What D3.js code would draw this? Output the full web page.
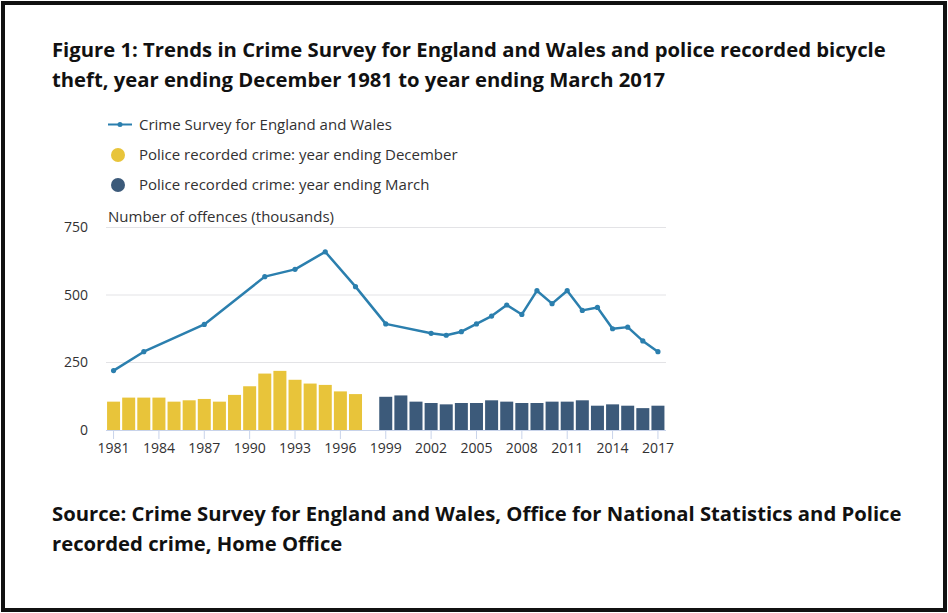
<!DOCTYPE html>
<html>
<head>
<meta charset="utf-8">
<script src="https://cdn.jsdelivr.net/npm/d3@7"></script>
<style>
  body { margin: 0; background: #fff; }
  text { font-family: "Open Sans", sans-serif; }
</style>
</head>
<body>
<svg id="chart" width="948" height="613"></svg>
<script>
// years on the x axis (one band per year)
const years = d3.range(1981, 2018);
const tickYears = [1981, 1984, 1987, 1990, 1993, 1996, 1999, 2002, 2005, 2008, 2011, 2014, 2017];
const yTicks = [0, 250, 500, 750];

// Crime Survey for England and Wales (thousands)
const csewYears = [1981, 1983, 1987, 1991, 1993, 1995, 1997, 1999, 2002, 2003, 2004, 2005, 2006, 2007, 2008, 2009, 2010, 2011, 2012, 2013, 2014, 2015, 2016, 2017];
const csewValues = [220, 290, 391, 568, 595, 660, 531, 393, 358, 351, 364, 393, 422, 463, 428, 516, 468, 516, 443, 454, 375, 381, 330, 290];

// police recorded crime, year ending December
const decYears = d3.range(1981, 1998);
const decValues = [105, 120, 120, 120, 105, 110, 115, 105, 130, 162, 209, 219, 186, 172, 167, 143, 133];

// police recorded crime, year ending March
const marYears = d3.range(1999, 2018);
const marValues = [123, 128, 105, 100, 95, 100, 100, 110, 105, 100, 100, 105, 105, 110, 90, 95, 90, 81, 90];

const lineColor = "#2b7fae";
const decColor = "#e8c43a";
const marColor = "#3c5a7a";
const textColor = "#323132";

const svg = d3.select("#chart");

// frame
svg.append("rect")
  .attr("x", 3).attr("y", 3)
  .attr("width", 942).attr("height", 607)
  .attr("fill", "#fff")
  .attr("stroke", "#111")
  .attr("stroke-width", 4);

// title
const title = ["Figure 1: Trends in Crime Survey for England and Wales and police recorded bicycle",
  "theft, year ending December 1981 to year ending March 2017"];
svg.selectAll(".title").data(title).enter().append("text")
  .attr("x", 52).attr("y", (d, i) => 57 + i * 30)
  .attr("font-size", 20.25).attr("font-weight", 700).attr("fill", "#111")
  .text(d => d);

const source = ["Source: Crime Survey for England and Wales, Office for National Statistics and Police",
  "recorded crime, Home Office"];
svg.selectAll(".source").data(source).enter().append("text")
  .attr("x", 52).attr("y", (d, i) => 521 + i * 30)
  .attr("font-size", 20.25).attr("font-weight", 700).attr("fill", "#111")
  .text(d => d);

// scales
const x = d3.scaleBand()
  .domain(years)
  .range([106, 665.5])
  .paddingInner(0.14)
  .paddingOuter(0.07);

const y = d3.scaleLinear()
  .domain([0, 750])
  .range([430, 227.5]);

const cx = yr => x(yr) + x.bandwidth() / 2;

// gridlines
svg.append("g").selectAll("line").data(yTicks.filter(d => d > 0)).enter().append("line")
  .attr("x1", 106).attr("x2", 666)
  .attr("y1", d => y(d)).attr("y2", d => y(d))
  .attr("stroke", "#e3e3e6").attr("stroke-width", 1);

// y axis labels
const yAxis = svg.append("g")
  .attr("transform", "translate(88,0)")
  .call(d3.axisLeft(y).tickValues(yTicks).tickSize(0).tickPadding(0));
yAxis.select(".domain").remove();
yAxis.selectAll("text")
  .attr("font-size", 14).attr("fill", textColor)
  .style("font-family", "Open Sans, sans-serif");

svg.append("text")
  .attr("x", 108).attr("y", 222)
  .attr("font-size", 15).attr("fill", textColor)
  .text("Number of offences (thousands)");

// bars
svg.append("g").selectAll("rect").data(decYears).enter().append("rect")
  .attr("x", d => x(d))
  .attr("y", (d, i) => y(decValues[i]))
  .attr("width", x.bandwidth())
  .attr("height", (d, i) => y(0) - y(decValues[i]))
  .attr("fill", decColor);

svg.append("g").selectAll("rect").data(marYears).enter().append("rect")
  .attr("x", d => x(d))
  .attr("y", (d, i) => y(marValues[i]))
  .attr("width", x.bandwidth())
  .attr("height", (d, i) => y(0) - y(marValues[i]))
  .attr("fill", marColor);

// x axis
const xAxis = svg.append("g")
  .attr("transform", "translate(0,430)")
  .call(d3.axisBottom(x).tickValues(tickYears).tickSize(9).tickPadding(4).tickSizeOuter(0));
xAxis.select(".domain").attr("stroke", "#c8d3ea").attr("d", "M106,0.5H666");
xAxis.selectAll("line").attr("stroke", "#c8d3ea");
xAxis.selectAll("text")
  .attr("font-size", 14).attr("fill", textColor)
  .style("font-family", "Open Sans, sans-serif");

// CSEW line
const csew = csewYears.map((yr, i) => ({yr: yr, v: csewValues[i]}));
const line = d3.line().x(d => cx(d.yr)).y(d => y(d.v));
svg.append("path")
  .attr("d", line(csew))
  .attr("fill", "none")
  .attr("stroke", lineColor)
  .attr("stroke-width", 2.5)
  .attr("stroke-linejoin", "round");
svg.append("g").selectAll("circle").data(csew).enter().append("circle")
  .attr("cx", d => cx(d.yr)).attr("cy", d => y(d.v))
  .attr("r", 2.6).attr("fill", lineColor);

// legend
const legend = svg.append("g");
legend.append("line")
  .attr("x1", 108).attr("x2", 132).attr("y1", 124.5).attr("y2", 124.5)
  .attr("stroke", lineColor).attr("stroke-width", 2);
legend.append("circle").attr("cx", 120).attr("cy", 124.5).attr("r", 2.5).attr("fill", lineColor);
legend.append("circle").attr("cx", 118).attr("cy", 155).attr("r", 7).attr("fill", decColor);
legend.append("circle").attr("cx", 118).attr("cy", 185).attr("r", 7).attr("fill", marColor);
const legendLabels = ["Crime Survey for England and Wales",
  "Police recorded crime: year ending December",
  "Police recorded crime: year ending March"];
legend.selectAll("text").data(legendLabels).enter().append("text")
  .attr("x", 139).attr("y", (d, i) => 130 + i * 30)
  .attr("font-size", 15).attr("fill", textColor)
  .text(d => d);
</script>
</body>
</html>
